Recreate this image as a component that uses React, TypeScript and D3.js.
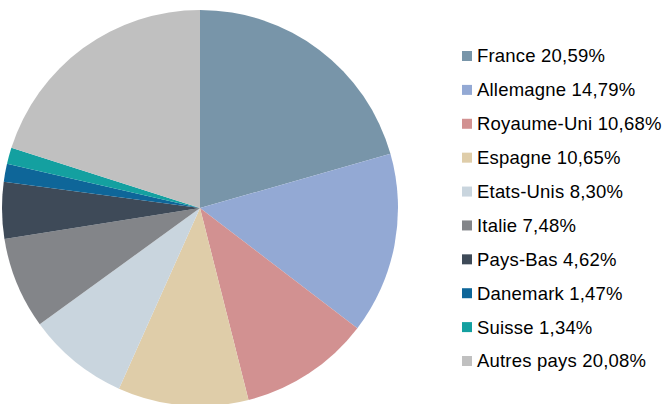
import React from "react";
import * as d3 from "d3";

const categories = ["France", "Allemagne", "Royaume-Uni", "Espagne", "Etats-Unis", "Italie", "Pays-Bas", "Danemark", "Suisse", "Autres pays"];
const values = [20.59, 14.79, 10.68, 10.65, 8.3, 7.48, 4.62, 1.47, 1.34, 20.08];
const labels = ["20,59%", "14,79%", "10,68%", "10,65%", "8,30%", "7,48%", "4,62%", "1,47%", "1,34%", "20,08%"];
const colors = ["#7895A9", "#93A9D4", "#D29191", "#DFCDA9", "#C9D5DE", "#838589", "#3E4A58", "#0E6699", "#14A0A0", "#C0C0C0"];

export default function App() {
  const width = 662;
  const height = 404;
  const cx = 200;
  const cy = 208;
  const r = 198;
  const pie = d3.pie<number>().sort(null).value((d) => d);
  const arcs = pie(values);
  const arc = d3.arc<d3.PieArcDatum<number>>().innerRadius(0).outerRadius(r);
  const legendY = d3.scaleLinear().domain([0, categories.length - 1]).range([56, 361]);

  return (
    <svg width={width} height={height} style={{ position: "absolute", left: 0, top: 0, background: "#fff" }}>
      <g transform={`translate(${cx},${cy})`}>
        {arcs.map((a, i) => (
          <path key={i} d={arc(a) || ""} fill={colors[i]} />
        ))}
      </g>
      <g fontFamily="'Liberation Sans', Arial, sans-serif" fontSize={18.5} letterSpacing={0.2} fill="#000">
        {categories.map((c, i) => (
          <g key={c} transform={`translate(0,${legendY(i)})`}>
            <rect x={462} y={-5} width={10} height={10} fill={colors[i]} />
            <text x={477} y={0} dy="0.35em">{`${c} ${labels[i]}`}</text>
          </g>
        ))}
      </g>
    </svg>
  );
}
